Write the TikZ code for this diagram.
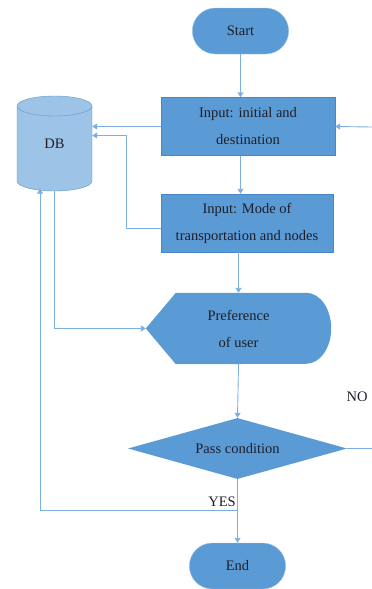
\documentclass[tikz,border=0pt]{standalone}
\usepackage{fontspec}
\setmainfont{Liberation Serif}
\usetikzlibrary{calc,arrows.meta,shapes.geometric,shapes.misc,backgrounds}
\definecolor{BoxBlue}{HTML}{5B9BD5}
\definecolor{EdgeBlue}{HTML}{4A86C5}
\definecolor{DBFill}{HTML}{9DC3E6}
\definecolor{LineBlue}{HTML}{7DB0E2}
\definecolor{TextGray}{HTML}{1E1E28}

\begin{document}
\begin{tikzpicture}[x=1pt, y=-1pt,
    font=\rmfamily\fontsize{14.5}{27}\selectfont, text=TextGray,
    terminal/.style={rounded rectangle, fill=BoxBlue, draw=EdgeBlue!50, minimum width=103pt, minimum height=46pt},
    inbox/.style={rectangle, fill=BoxBlue, draw=EdgeBlue, minimum height=58pt, align=center},
    dbnode/.style={cylinder, shape border rotate=90, aspect=3, minimum width=75pt, minimum height=95pt, fill=DBFill, draw=BoxBlue},
    link/.style={LineBlue, line width=0.9pt},
    arrow/.style={link, -{Triangle[length=5pt, width=6pt]}}]
\useasboundingbox (0,0) rectangle (372,589);

% main column
\node[terminal] (start) at (240.5,31) {Start};
\node[inbox, minimum width=174pt] (in1) at (248,126.5) {Input: initial and\\destination};
\node[inbox, minimum width=172pt] (in2) at (247,223) {Input: Mode of\\transportation and nodes};
\node[minimum width=185pt, minimum height=71pt, align=center] (pref) at (238.5,328.5) {Preference\\of user};
\node[diamond, fill=BoxBlue, aspect=3.6, inner sep=0pt, minimum width=219pt, minimum height=61pt] (dec) at (237.5,448.5) {Pass condition};
\node[terminal] (end) at (237.5,566) {End};
\node[dbnode, anchor=shape center] (db) at (54.5,143.5) {};
\node (dbtext) at (db.shape center) {DB};

\begin{scope}[on background layer]
\fill[BoxBlue] (pref.west) -- ($(pref.north west)+(30,0)$) -- ($(pref.north east)+(-25,0)$)
    arc[start angle=90, end angle=-90, x radius=25pt, y radius=35.5pt] -- ($(pref.south west)+(30,0)$) -- cycle;
\end{scope}

\node (nolabel) at (357,397) {NO};
\node (yeslabel) at (222,502) {YES};

\coordinate (rin) at (372,127);
\coordinate (rout) at (372,448.5);
\coordinate (yes) at (237.5,510);
\coordinate (db-in) at ($(db.south)+(-14.5,-2.5)$);

\draw[arrow] (start) -- (start |- in1.north);
\draw[arrow] (rin) -- (in1.east);
\draw[arrow] (in1.west) -- (in1.west -| db.east);
\draw[arrow] (start |- in1.south) -- (start |- in2.north);
\draw[arrow] ($(in2.west)+(0,5)$) -- ++(-34,0) |- ($(in1.west -| db.east)+(0,9)$);
\draw[arrow] (pref |- in2.south) -- (pref.north);
\draw[arrow] (db.south) |- (pref.west);
\draw[arrow] (pref.south) -- (dec.north);
\draw[link] (dec.east) -- (rout);
\draw[arrow] (dec.south) -- (end.north);
\draw[arrow] (yes) -| (db-in);
\end{tikzpicture}
\end{document}
